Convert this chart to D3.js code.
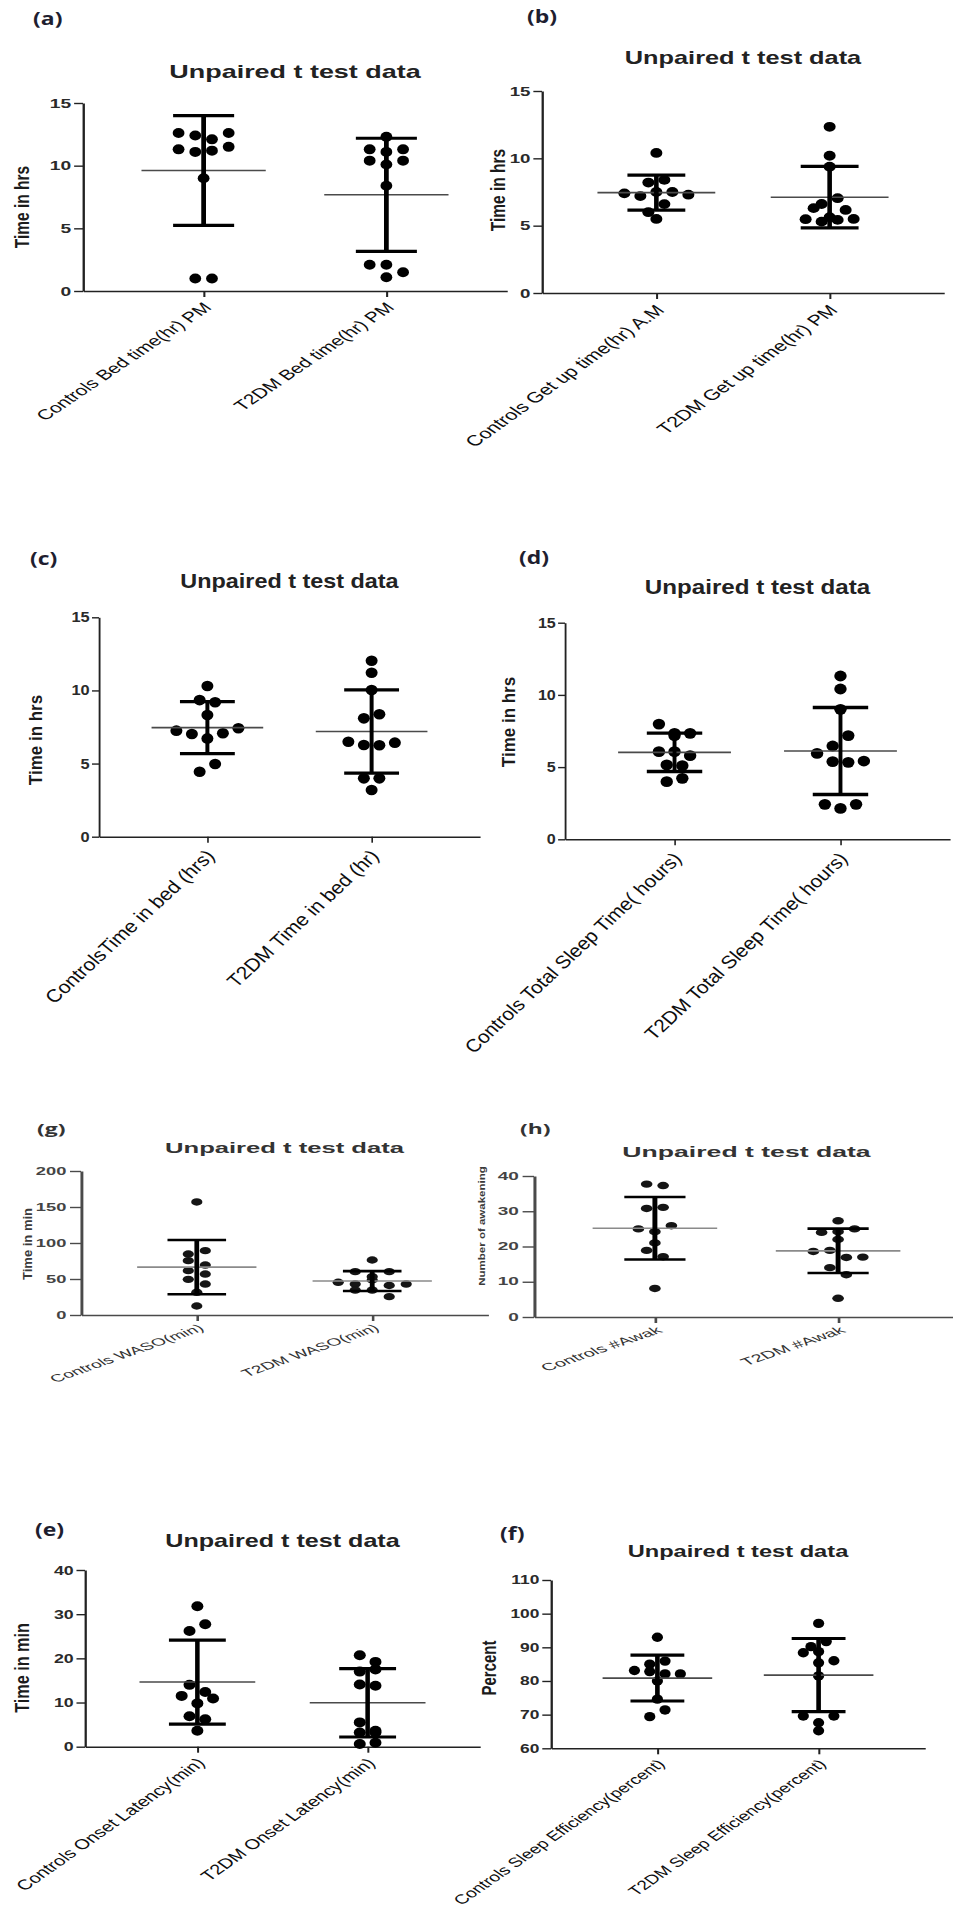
<!DOCTYPE html>
<html><head><meta charset="utf-8">
<script src="https://cdn.jsdelivr.net/npm/d3@7"></script>
<style>body{margin:0;background:#fff}</style>
</head><body>
<script>
// ---------------- DATA ----------------
const titleText = "Unpaired t test data";
const yHrs = "Time in hrs", yMin = "Time in min", yAwake = "Number of awakening", yPct = "Percent";

const catsA = ["Controls Bed time(hr) PM", "T2DM Bed time(hr) PM"];
const ctrlA = [12.6, 12.4, 12.1, 12.6, 11.3, 11.1, 11.2, 11.5, 9.0, 1.0, 1.0];
const t2dmA = [12.3, 11.3, 11.1, 11.3, 10.4, 10.1, 10.4, 8.4, 2.1, 2.1, 1.1, 1.5];

const catsB = ["Controls Get up time(hr) A.M", "T2DM Get up time(hr) PM"];
const ctrlB = [10.4, 8.2, 8.4, 7.4, 7.2, 7.5, 7.5, 7.3, 6.0, 6.6, 5.5];
const t2dmB = [12.34, 10.19, 9.38, 6.61, 6.30, 7.04, 5.63, 5.48, 5.30, 5.43, 5.50, 6.17];

const catsC = ["ControlsTime in bed (hrs)", "T2DM Time in bed (hr)"];
const ctrlC = [10.3, 9.34, 9.19, 8.32, 7.25, 7.02, 6.72, 7.07, 7.41, 4.44, 4.97];
const t2dmC = [12.03, 11.21, 10.03, 8.09, 8.37, 6.49, 6.27, 6.25, 6.43, 3.99, 3.99, 3.19];

const catsD = ["Controls Total Sleep Time( hours)", "T2DM Total Sleep Time( hours)"];
const ctrlD = [7.98, 7.34, 7.18, 7.34, 6.07, 6.07, 5.79, 5.15, 5.10, 3.99, 4.22];
const t2dmD = [11.31, 10.41, 9.0, 6.46, 7.18, 5.95, 5.38, 5.33, 5.42, 2.42, 2.14, 2.42];

const catsG = ["Controls WASO(min)", "T2DM WASO(min)"];
const ctrlG = [157, 84.7, 89.4, 75.5, 69.4, 61.6, 56.9, 49.5, 43, 31.5, 12.5];
const t2dmG = [76.4, 60.2, 53.2, 60.2, 45.4, 43, 48.6, 41, 43, 34.7, 34.7, 25.5];

const catsH = ["Controls #Awak", "T2DM #Awak"];
const ctrlH = [37.7, 37.3, 30.8, 31.1, 25.0, 24.2, 25.9, 21.0, 18.9, 17.1, 8.1];
const t2dmH = [27.3, 24.0, 24.2, 25.0, 22.0, 18.6, 18.9, 16.9, 17.0, 14.0, 12.0, 5.3];

const catsE = ["Controls Onset Latency(min)", "T2DM Onset Latency(min)"];
const ctrlE = [31.8, 26.2, 27.7, 14.0, 12.4, 11.5, 9.8, 10.9, 6.9, 6.2, 3.6];
const t2dmE = [20.7, 19.2, 17.0, 17.5, 14.1, 13.8, 5.5, 3.2, 3.2, 3.6, 0.6, 0.9];

const catsF = ["Controls Sleep Efficiency(percent)", "T2DM Sleep Efficiency(percent)"];
const ctrlF = [93.0, 85.0, 83.1, 85.9, 82.8, 82.1, 80.0, 82.1, 74.6, 69.4, 71.4];
const t2dmF = [97.1, 90.2, 91.7, 88.4, 88.7, 86.0, 85.4, 81.5, 69.6, 67.6, 69.6, 65.2];

const ticksHrs = [0, 5, 10, 15];
const ticksG = [0, 50, 100, 150, 200];
const ticks40 = [0, 10, 20, 30, 40];
const ticksF = [60, 70, 80, 90, 100, 110];

// ---------------- LAYOUT ----------------
const FONT = "'Liberation Sans', Arial, Helvetica, sans-serif";
const LFONT = "'Open Sans', 'Liberation Sans', Arial, sans-serif";

const panels = [
 {letter:"(a)", lx:33, ly:25, cats:catsA, series:[ctrlA,t2dmA], ticks:ticksHrs, L:83, W:424, yT:103, yB:291, k:1.48,
  tY:78, tF:18.2, tickF:13, catF:14.2, catA:45, yt:{text:yHrs, x:22, y:207, f:15.5, sx:1.3},
  dot:{rx:5.9, ry:5, sp:16.7}, sdW:3.2, dark:true},
 {letter:"(b)", lx:527, ly:23, cats:catsB, series:[ctrlB,t2dmB], ticks:ticksHrs, L:542, W:402, yT:91, yB:293, k:1.44,
  tY:64.3, tF:17.6, tickF:13, catF:15, catA:46, yt:{text:yHrs, x:498, y:190, f:15.5, sx:1.3},
  dot:{rx:6, ry:4.9, sp:16}, sdW:3.2, dark:true},
 {letter:"(c)", lx:30, ly:565, cats:catsC, series:[ctrlC,t2dmC], ticks:ticksHrs, L:99, W:381, yT:617.3, yB:836.7, k:1.17,
  tY:588.5, tF:20, tickF:14, catF:18, catA:47, yt:{text:yHrs, x:35, y:740, f:17, sx:1.1},
  dot:{rx:6, ry:5.3, sp:15.5}, sdW:3.4, dark:true},
 {letter:"(d)", lx:519, ly:564, cats:catsD, series:[ctrlD,t2dmD], ticks:ticksHrs, L:565, W:385, yT:622.7, yB:839.3, k:1.15,
  tY:594.3, tF:21, tickF:14, catF:18, catA:47, yt:{text:yHrs, x:508, y:722, f:17, sx:1.1},
  dot:{rx:6.2, ry:5.4, sp:15.6}, sdW:3.4, dark:true},
 {letter:"(g)", lx:37, ly:1134, cats:catsG, series:[ctrlG,t2dmG], ticks:ticksG, L:81, W:407, yT:1171, yB:1315, k:1.83,
  tY:1153.3, tF:14, tickF:10, catF:10.5, catA:33, yt:{text:yMin, x:27, y:1244, f:13, sx:1.0},
  dot:{rx:5.6, ry:3.7, sp:17}, sdW:2.6, dark:false},
 {letter:"(h)", lx:520, ly:1134, cats:catsH, series:[ctrlH,t2dmH], ticks:ticks40, L:534, W:425, yT:1176, yB:1317, k:1.9,
  tY:1156.7, tF:14, tickF:10, catF:10.5, catA:33, yt:{text:yAwake, x:482, y:1226, f:11.5, sx:0.75},
  dot:{rx:5.8, ry:3.7, sp:16.5}, sdW:2.6, dark:false},
 {letter:"(e)", lx:35, ly:1536, cats:catsE, series:[ctrlE,t2dmE], ticks:ticks40, L:85, W:395, yT:1570, yB:1746.7, k:1.42,
  tY:1546.7, tF:17.7, tickF:12.5, catF:14.2, catA:45, yt:{text:yMin, x:22, y:1668, f:16.2, sx:1.3},
  dot:{rx:6, ry:5, sp:15.7}, sdW:3.2, dark:true},
 {letter:"(f)", lx:500, ly:1540, cats:catsF, series:[ctrlF,t2dmF], ticks:ticksF, L:551, W:374, yT:1580, yB:1748.3, k:1.45,
  tY:1556.7, tF:16.3, tickF:12, catF:13.2, catA:45, yt:{text:yPct, x:489, y:1668, f:15, sx:1.3},
  dot:{rx:5.6, ry:4.7, sp:15.3}, sdW:3.2, dark:true}
];

const svg = d3.select("body").append("svg")
  .attr("width", 953).attr("height", 1915).style("display", "block");
svg.append("rect").attr("width", 953).attr("height", 1915).attr("fill", "#fff");

// group points into rows (by pixel height) and spread them symmetrically
function swarmOffsets(vals, y, thresh) {
  const idx = vals.map((v, i) => i).sort((a, b) => vals[b] - vals[a] || a - b);
  const rows = []; let cur = null;
  idx.forEach(i => {
    const py = y(vals[i]);
    if (cur && py - cur.y0 < thresh) cur.items.push(i);
    else { cur = {y0: py, items: [i]}; rows.push(cur); }
  });
  const off = new Array(vals.length);
  rows.forEach(r => {
    r.items.sort((a, b) => a - b);
    const n = r.items.length;
    r.items.forEach((i, j) => off[i] = j - (n - 1) / 2);
  });
  return off;
}

function drawPanel(p) {
  const k = p.k, Wn = p.W / k;
  const ink = p.dark ? "#1b1b1b" : "#3a3a3a";
  const axisInk = p.dark ? "#222" : "#4a4a4a";
  const g = svg.append("g").attr("transform", `translate(${p.L},0) scale(${k},1)`);
  const x = d3.scalePoint().domain(p.cats).range([0, Wn]).padding(0.66);
  const y = d3.scaleLinear().domain([p.ticks[0], p.ticks[p.ticks.length - 1]]).range([p.yB, p.yT]);

  // y axis
  const ya = g.append("g").call(d3.axisLeft(y).tickValues(p.ticks).tickSize(6).tickSizeOuter(0).tickPadding(2).tickFormat(d3.format("d")));
  ya.select(".domain").attr("stroke", axisInk).attr("stroke-width", 1.6);
  ya.selectAll(".tick line").attr("stroke", axisInk).attr("stroke-width", 1.4);
  ya.selectAll(".tick text").attr("font-family", FONT).attr("font-weight", "bold")
    .attr("font-size", p.tickF).attr("fill", p.dark ? "#2a2a2a" : "#444");

  // x axis
  const xa = g.append("g").attr("transform", `translate(0,${p.yB})`)
    .call(d3.axisBottom(x).tickSize(6).tickSizeOuter(0));
  xa.select(".domain").attr("stroke", axisInk).attr("stroke-width", 1.6);
  xa.selectAll(".tick line").attr("stroke", axisInk).attr("stroke-width", 1.4);
  xa.selectAll(".tick text").attr("font-family", FONT).attr("font-size", p.catF)
    .attr("fill", p.dark ? "#0d0d0d" : "#333")
    .attr("text-anchor", "end").attr("x", 0).attr("y", 0).attr("dy", "0.35em")
    .attr("transform", `translate(2,${6 + p.catF * 0.55}) rotate(${-p.catA})`);

  // dots + mean/SD
  p.series.forEach((vals, s) => {
    const cat = p.cats[s], cx = x(cat), st = x.step();
    const off = swarmOffsets(vals, y, 2 * p.dot.ry);
    g.append("g").selectAll("ellipse").data(vals).join("ellipse")
      .attr("cx", (d, i) => cx + off[i] * p.dot.sp / k)
      .attr("cy", d => y(d))
      .attr("rx", p.dot.rx / k).attr("ry", p.dot.ry)
      .attr("fill", p.dark ? "#000" : "#151515");
    const m = d3.mean(vals), sd = d3.deviation(vals);
    g.append("line").attr("x1", cx - 0.34 * st).attr("x2", cx + 0.34 * st)
      .attr("y1", y(m)).attr("y2", y(m))
      .attr("stroke", p.dark ? "#4a4a4a" : "#8a8a8a").attr("stroke-width", 1.6);
    g.append("line").attr("x1", cx).attr("x2", cx).attr("y1", y(m - sd)).attr("y2", y(m + sd))
      .attr("stroke", "#000").attr("stroke-width", p.sdW);
    [m - sd, m + sd].forEach(v => {
      g.append("line").attr("x1", cx - 0.167 * st).attr("x2", cx + 0.167 * st)
        .attr("y1", y(v)).attr("y2", y(v))
        .attr("stroke", "#000").attr("stroke-width", p.sdW);
    });
  });

  // title
  g.append("text").attr("x", Wn / 2).attr("y", p.tY).attr("text-anchor", "middle")
    .attr("font-family", FONT).attr("font-weight", "bold").attr("font-size", p.tF)
    .attr("fill", p.dark ? "#222" : "#333").text(titleText);

  // y-axis title
  svg.append("text")
    .attr("transform", `translate(${p.yt.x},${p.yt.y}) scale(${p.yt.sx},1) rotate(-90)`)
    .attr("text-anchor", "middle").attr("dy", "0.35em")
    .attr("font-family", FONT).attr("font-weight", "bold").attr("font-size", p.yt.f)
    .attr("fill", ink).text(p.yt.text);

  // panel letter
  svg.append("text")
    .attr("transform", `translate(${p.lx},${p.ly}) scale(${p.dark ? 1.35 : 1.7},1)`)
    .attr("font-family", LFONT).attr("font-weight", "bold")
    .attr("font-size", p.dark ? 17 : 13.5).attr("fill", p.dark ? "#1e1e30" : "#333")
    .text(p.letter);
}

panels.forEach(drawPanel);
</script>
</body></html>
